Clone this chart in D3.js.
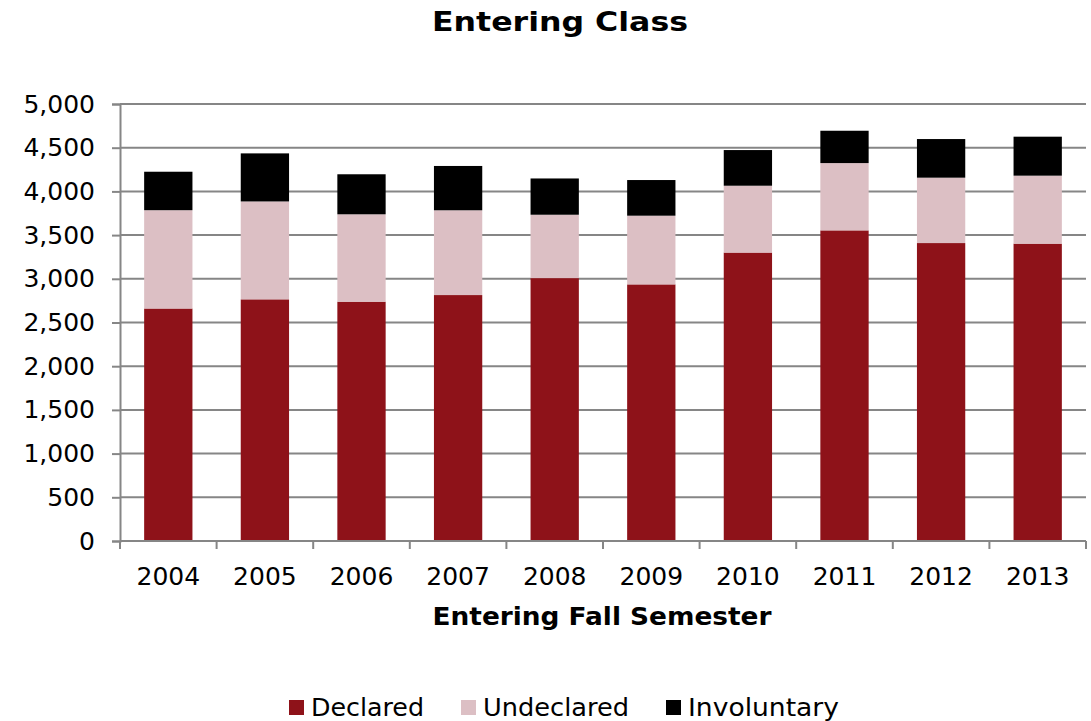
<!DOCTYPE html>
<html>
<head>
<meta charset="utf-8">
<script src="https://cdn.jsdelivr.net/npm/d3@7"></script>
<style>
  body { margin: 0; background: #fff; }
  svg { display: block; font-family: "DejaVu Sans", Verdana, sans-serif; }
</style>
</head>
<body>
<script>
const years = ["2004", "2005", "2006", "2007", "2008", "2009", "2010", "2011", "2012", "2013"];
const declared = [2660, 2765, 2738, 2814, 3008, 2936, 3300, 3554, 3409, 3402];
const undeclared = [1125, 1120, 1000, 970, 725, 786, 765, 770, 748, 778];
const involuntary = [440, 550, 458, 507, 415, 408, 408, 370, 442, 446];
const seriesNames = ["Declared", "Undeclared", "Involuntary"];
const seriesColors = ["#8e1219", "#dcbfc4", "#000000"];
const yTicks = [0, 500, 1000, 1500, 2000, 2500, 3000, 3500, 4000, 4500, 5000];

const width = 1091;
const height = 721;
const margin = { top: 104, right: 5, bottom: 180, left: 120 };

const rows = years.map(function (y, i) {
  return { year: y, Declared: declared[i], Undeclared: undeclared[i], Involuntary: involuntary[i] };
});
const stacked = d3.stack().keys(seriesNames)(rows);

const svg = d3.select("body")
  .append("svg")
  .attr("width", width)
  .attr("height", height);

const x = d3.scaleBand()
  .domain(years)
  .range([margin.left, width - margin.right])
  .paddingInner(0.5)
  .paddingOuter(0.25);

const y = d3.scaleLinear()
  .domain([0, 5000])
  .range([height - margin.bottom, margin.top]);

const color = d3.scaleOrdinal().domain(seriesNames).range(seriesColors);

// gridlines + y axis
const yAxis = svg.append("g")
  .attr("transform", "translate(" + margin.left + ",0)")
  .call(d3.axisLeft(y).tickValues(yTicks).tickFormat(d3.format(",")).tickSize(8).tickPadding(17));
yAxis.select(".domain").attr("stroke", "#868686").attr("stroke-width", 2);
yAxis.selectAll(".tick line").attr("stroke", "#868686").attr("stroke-width", 2);
yAxis.selectAll(".tick text")
  .attr("fill", "#000")
  .style("font-size", "25px")
  .style("font-family", "'DejaVu Sans', Verdana, sans-serif");

svg.append("g")
  .selectAll("line")
  .data(yTicks.filter(function (d) { return d > 0; }))
  .join("line")
  .attr("x1", margin.left)
  .attr("x2", width - margin.right)
  .attr("y1", function (d) { return y(d); })
  .attr("y2", function (d) { return y(d); })
  .attr("stroke", "#868686")
  .attr("stroke-width", 2);

// bars
svg.append("g")
  .selectAll("g")
  .data(stacked)
  .join("g")
  .attr("fill", function (d) { return color(d.key); })
  .selectAll("rect")
  .data(function (d) { return d; })
  .join("rect")
  .attr("x", function (d) { return x(d.data.year); })
  .attr("width", x.bandwidth())
  .attr("y", function (d) { return y(d[1]); })
  .attr("height", function (d) { return y(d[0]) - y(d[1]); });

// x axis
const step = x.step();
const xAxis = svg.append("g")
  .attr("transform", "translate(0," + y(0) + ")");
xAxis.append("line")
  .attr("x1", margin.left)
  .attr("x2", width - margin.right)
  .attr("stroke", "#868686")
  .attr("stroke-width", 2);
xAxis.selectAll(".xtick")
  .data(d3.range(years.length + 1))
  .join("line")
  .attr("class", "xtick")
  .attr("x1", function (i) { return margin.left + i * step; })
  .attr("x2", function (i) { return margin.left + i * step; })
  .attr("y1", 0)
  .attr("y2", 8)
  .attr("stroke", "#868686")
  .attr("stroke-width", 2);
xAxis.selectAll(".xlabel")
  .data(years)
  .join("text")
  .attr("class", "xlabel")
  .attr("x", function (d) { return x(d) + x.bandwidth() / 2; })
  .attr("y", 44)
  .attr("text-anchor", "middle")
  .style("font-size", "25px")
  .text(function (d) { return d; });

// titles
svg.append("text")
  .attr("x", 560)
  .attr("y", 31)
  .attr("text-anchor", "middle")
  .attr("textLength", 256)
  .attr("lengthAdjust", "spacingAndGlyphs")
  .style("font-size", "26px")
  .style("font-weight", "bold")
  .text("Entering Class");

svg.append("text")
  .attr("x", 602)
  .attr("y", 625)
  .attr("text-anchor", "middle")
  .attr("textLength", 339)
  .attr("lengthAdjust", "spacingAndGlyphs")
  .style("font-size", "24px")
  .style("font-weight", "bold")
  .text("Entering Fall Semester");

// legend
const legendX = [289, 461, 666];
const legendW = [113, 146, 151];
const legend = svg.append("g")
  .selectAll("g")
  .data(seriesNames)
  .join("g")
  .attr("transform", function (d, i) { return "translate(" + legendX[i] + ",700)"; });
legend.append("rect")
  .attr("width", 15)
  .attr("height", 15)
  .attr("fill", function (d) { return color(d); });
legend.append("text")
  .attr("x", 22)
  .attr("y", 16)
  .attr("textLength", function (d, i) { return legendW[i]; })
  .attr("lengthAdjust", "spacingAndGlyphs")
  .style("font-size", "25px")
  .text(function (d) { return d; });
</script>
</body>
</html>
